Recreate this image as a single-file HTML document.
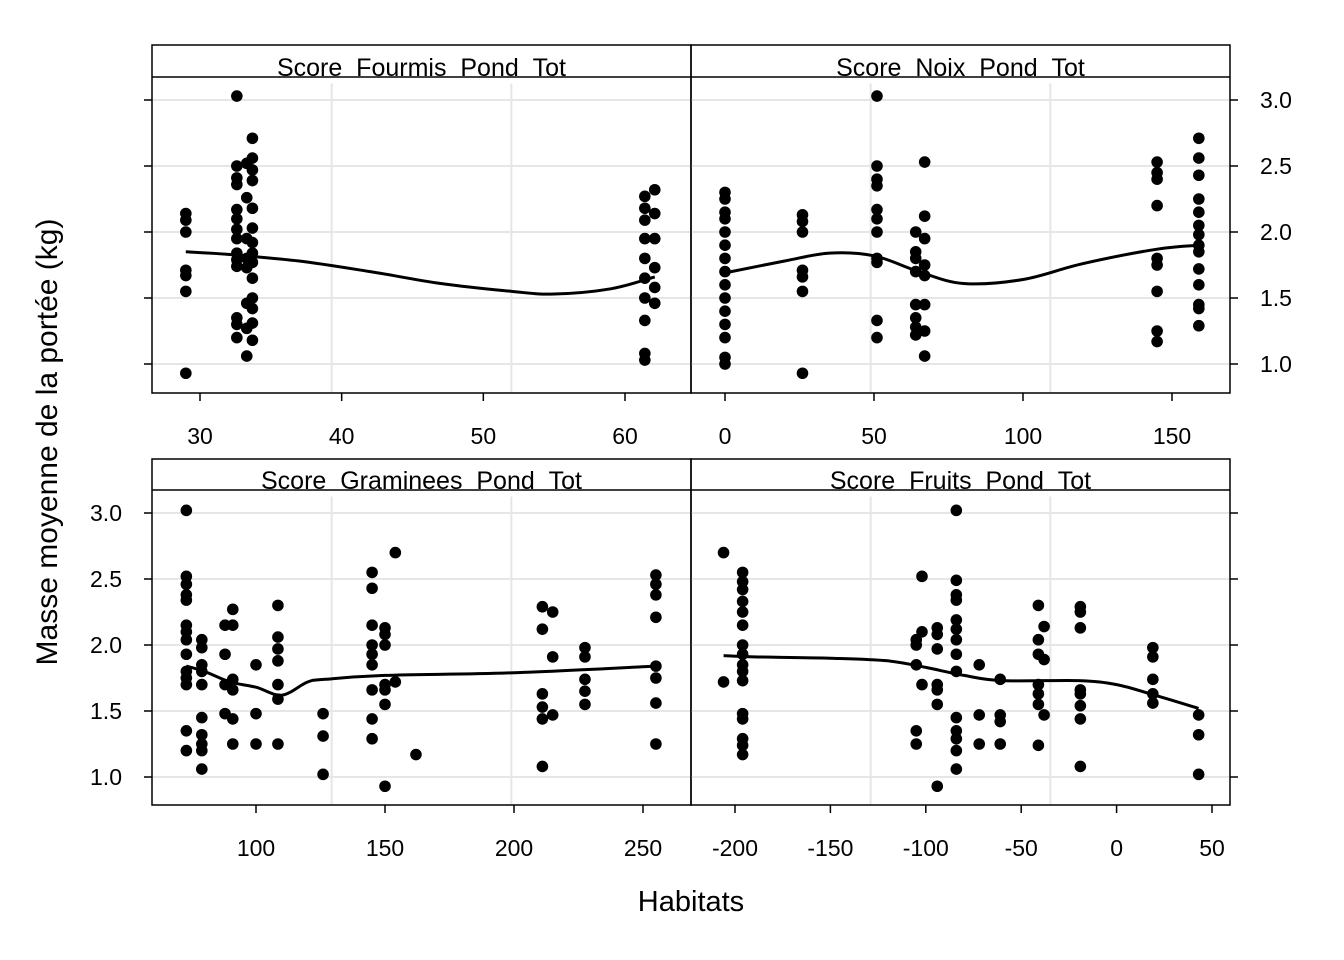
<!DOCTYPE html>
<html><head><meta charset="utf-8"><style>
html,body{margin:0;padding:0;background:#fff;}
svg{display:block;font-family:"Liberation Sans",Arial,sans-serif;}
</style></head><body>
<svg id="chart" width="1344" height="960" viewBox="0 0 1344 960"></svg>
<script>
// ---- data ----
const panelTitles = ["Score_Fourmis_Pond_Tot","Score_Noix_Pond_Tot","Score_Graminees_Pond_Tot","Score_Fruits_Pond_Tot"];
const yTicks = [1.0,1.5,2.0,2.5,3.0];
const xTicksFourmis = [30,40,50,60];
const xTicksNoix = [0,50,100,150];
const xTicksGram = [100,150,200,250];
const xTicksFruits = [-200,-150,-100,-50,0,50];

const fourmisX = [29,29,29,29,29,29,29,
 32.6,32.6,32.6,32.6,32.6,32.6,32.6,32.6,32.6,32.6,32.6,32.6,32.6,32.6,
 33.3,33.3,33.3,33.3,33.3,33.3,33.3,33.3,
 33.7,33.7,33.7,33.7,33.7,33.7,33.7,33.7,33.7,33.7,33.7,33.7,33.7,33.7,
 61.4,61.4,61.4,61.4,61.4,61.4,61.4,61.4,61.4,61.4,
 62.1,62.1,62.1,62.1,62.1,62.1];
const fourmisY = [2.14,2.09,2.0,1.71,1.67,1.55,0.93,
 3.03,2.5,2.41,2.36,2.17,2.1,2.02,1.95,1.84,1.79,1.74,1.35,1.3,1.2,
 2.52,2.26,1.95,1.8,1.73,1.46,1.27,1.06,
 2.71,2.56,2.47,2.39,2.18,2.03,1.92,1.84,1.77,1.65,1.5,1.42,1.31,1.18,
 2.27,2.18,2.09,1.95,1.8,1.65,1.5,1.33,1.08,1.03,
 2.32,2.14,1.95,1.73,1.58,1.46];
const fourmisFitX = [29,32,37,42,47,52,55,59,62.1];
const fourmisFitY = [1.85,1.83,1.78,1.7,1.61,1.55,1.53,1.57,1.66];

const noixX = [0,0,0,0,0,0,0,0,0,0,0,0,0,0,0,
 26,26,26,26,26,26,26,
 51,51,51,51,51,51,51,51,51,51,51,
 64,64,64,64,64,64,64,64,
 67,67,67,67,67,67,67,67,
 145,145,145,145,145,145,145,145,145,
 159,159,159,159,159,159,159,159,159,159,159,159,159,159];
const noixY = [2.3,2.25,2.15,2.1,2.0,1.9,1.8,1.7,1.6,1.5,1.4,1.3,1.2,1.05,1.0,
 2.13,2.08,2.0,1.71,1.66,1.55,0.93,
 3.03,2.5,2.4,2.35,2.17,2.1,2.0,1.8,1.77,1.33,1.2,
 2.0,1.85,1.8,1.7,1.45,1.35,1.28,1.22,
 2.53,2.12,1.95,1.75,1.67,1.45,1.25,1.06,
 2.53,2.45,2.4,2.2,1.8,1.75,1.55,1.25,1.17,
 2.71,2.56,2.43,2.25,2.15,2.05,1.98,1.9,1.85,1.72,1.6,1.45,1.42,1.29];
const noixFitX = [0,20,35,50,65,80,100,120,145,159];
const noixFitY = [1.69,1.78,1.84,1.82,1.7,1.61,1.64,1.76,1.87,1.9];

const gramX = [73,73,73,73,73,73,73,73,73,73,73,73,73,73,
 79,79,79,79,79,79,79,79,79,79,
 88,88,88,88, 91,91,91,91,91,91, 100,100,100,
 108.5,108.5,108.5,108.5,108.5,108.5,108.5,
 126,126,126,
 145,145,145,145,145,145,145,145,145,
 150,150,150,150,150,150,150, 154,154, 162,
 211,211,211,211,211,211, 215,215,215,
 227.5,227.5,227.5,227.5,227.5,
 255,255,255,255,255,255,255,255];
const gramY = [3.02,2.52,2.46,2.38,2.34,2.15,2.1,2.04,1.93,1.8,1.75,1.7,1.35,1.2,
 2.04,1.98,1.85,1.8,1.7,1.45,1.32,1.25,1.2,1.06,
 2.15,1.93,1.7,1.48, 2.27,2.15,1.74,1.66,1.44,1.25, 1.85,1.48,1.25,
 2.3,2.06,1.97,1.88,1.7,1.59,1.25,
 1.48,1.31,1.02,
 2.55,2.43,2.15,2.0,1.93,1.85,1.66,1.44,1.29,
 2.13,2.08,2.0,1.7,1.66,1.55,0.93, 2.7,1.72, 1.17,
 2.29,2.12,1.63,1.53,1.44,1.08, 2.25,1.91,1.47,
 1.98,1.91,1.74,1.65,1.55,
 2.53,2.46,2.38,2.21,1.84,1.75,1.56,1.25];
const gramFitX = [73,80,90,100,110,120,127,150,200,255];
const gramFitY = [1.84,1.8,1.72,1.68,1.62,1.72,1.74,1.77,1.79,1.84];

const fruitsX = [-206,-206,
 -196,-196,-196,-196,-196,-196,-196,-196,-196,-196,-196,-196,-196,-196,-196,-196,
 -105,-105,-105,-105,-105, -102,-102,-102,
 -94,-94,-94,-94,-94,-94,-94,
 -84,-84,-84,-84,-84,-84,-84,-84,-84,-84,-84,-84,-84,-84,
 -72,-72,-72, -61,-61,-61,-61,
 -41,-41,-41,-41,-41,-41,-41, -38,-38,-38,
 -19,-19,-19,-19,-19,-19,-19,-19,
 19,19,19,19,19, 43,43,43];
const fruitsY = [2.7,1.72,
 2.55,2.48,2.42,2.33,2.25,2.15,2.0,1.93,1.85,1.8,1.73,1.48,1.44,1.29,1.24,1.17,
 2.04,2.0,1.85,1.35,1.25, 2.52,2.1,1.7,
 2.13,2.08,1.97,1.7,1.66,1.55,0.93,
 3.02,2.49,2.38,2.34,2.19,2.12,2.04,1.93,1.8,1.45,1.35,1.29,1.2,1.06,
 1.85,1.47,1.25, 1.74,1.47,1.42,1.25,
 2.3,2.04,1.93,1.7,1.63,1.55,1.24, 2.14,1.89,1.47,
 2.29,2.25,2.13,1.66,1.63,1.54,1.44,1.08,
 1.98,1.91,1.74,1.63,1.56, 1.47,1.32,1.02];
const fruitsFitX = [-206,-190,-150,-120,-100,-80,-60,-20,0,20,43];
const fruitsFitY = [1.92,1.91,1.9,1.88,1.83,1.77,1.73,1.73,1.7,1.62,1.52];

// ---- layout ----
const NS = "http://www.w3.org/2000/svg";
const svg = document.getElementById('chart');
function el(tag, attrs, parent){const e=document.createElementNS(NS,tag);for(const k in attrs)e.setAttribute(k,attrs[k]);(parent||svg).appendChild(e);return e;}

function smoothPath(pts){
  let d='M'+pts[0][0].toFixed(1)+','+pts[0][1].toFixed(1);
  for(let i=0;i<pts.length-1;i++){
    const p0=pts[Math.max(0,i-1)],p1=pts[i],p2=pts[i+1],p3=pts[Math.min(pts.length-1,i+2)];
    const c1x=p1[0]+(p2[0]-p0[0])/6,c1y=p1[1]+(p2[1]-p0[1])/6;
    const c2x=p2[0]-(p3[0]-p1[0])/6,c2y=p2[1]-(p3[1]-p1[1])/6;
    d+=' C'+c1x.toFixed(1)+','+c1y.toFixed(1)+' '+c2x.toFixed(1)+','+c2y.toFixed(1)+' '+p2[0].toFixed(1)+','+p2[1].toFixed(1);
  }
  return d;
}

const panels = [
 {x0:152,x1:691,top:45,strip:77,bot:393,y1px:364,xa:[30,200],xb:[60,625],xs:fourmisX,ys:fourmisY,fx:fourmisFitX,fy:fourmisFitY,ticks:xTicksFourmis,yLab:'right',yTickSide:'left',key:'fourmis'},
 {x0:691,x1:1230,top:45,strip:77,bot:393,y1px:364,xa:[0,725],xb:[150,1172],xs:noixX,ys:noixY,fx:noixFitX,fy:noixFitY,ticks:xTicksNoix,yLab:'right',yTickSide:'right',key:'noix'},
 {x0:152,x1:691,top:459,strip:490,bot:805,y1px:777,xa:[100,256],xb:[250,643],xs:gramX,ys:gramY,fx:gramFitX,fy:gramFitY,ticks:xTicksGram,yLab:'left',yTickSide:'left',key:'graminees'},
 {x0:691,x1:1230,top:459,strip:490,bot:805,y1px:777,xa:[-200,735],xb:[50,1212],xs:fruitsX,ys:fruitsY,fx:fruitsFitX,fy:fruitsFitY,ticks:xTicksFruits,yLab:'right-nolabel',yTickSide:'right',key:'fruits'}
];

panels.forEach((p,i)=>{
  const g = el('g',{});
  
  
  const sx = v => p.xa[1] + (v-p.xa[0])*(p.xb[1]-p.xa[1])/(p.xb[0]-p.xa[0]);
  const sy = v => p.y1px - (v-1)*132;
  const w = p.x1-p.x0;
  [1/3,2/3].forEach(f=>{
    const l=el('line',{x1:p.x0+w*f,x2:p.x0+w*f,y1:p.strip,y2:p.bot,stroke:'#e6e6e6','stroke-width':2},g);
    
    
  });
  yTicks.forEach(t=>{
    const l=el('line',{x1:p.x0,x2:p.x1,y1:sy(t),y2:sy(t),stroke:'#e6e6e6','stroke-width':2},g);
    
    
  });
  p.xs.forEach((xv,k)=>{
    const c=el('circle',{cx:sx(xv),cy:sy(p.ys[k]),r:5.8,fill:'#000'},g);
    
    
  });
  const pts = p.fx.map((xv,k)=>[sx(xv),sy(p.fy[k])]);
  const path=el('path',{d:smoothPath(pts),fill:'none',stroke:'#000','stroke-width':3},g);
  
  
  const st=el('text',{x:(p.x0+p.x1)/2,y:p.strip-1,'text-anchor':'middle','font-size':25},g);
  st.textContent=panelTitles[i];
  
  
  // hide underscores below strip line (as in the original render)
  el('rect',{x:p.x0+1,y:p.strip+0.5,width:w-2,height:6,fill:'#fff'},g);
  el('line',{x1:p.x0,x2:p.x1,y1:p.strip,y2:p.strip,stroke:'#000','stroke-width':1.5},g);
  el('rect',{x:p.x0,y:p.top,width:w,height:p.bot-p.top,fill:'none',stroke:'#000','stroke-width':1.5},g);
  p.ticks.forEach(t=>{
    el('line',{x1:sx(t),x2:sx(t),y1:p.bot,y2:p.bot+8,stroke:'#000','stroke-width':1.5},g);
    const tx=el('text',{x:sx(t),y:p.bot+51,'text-anchor':'middle','font-size':23},g);
    tx.textContent=String(t);
    
    
  });
  yTicks.forEach(t=>{
    if(p.yTickSide==='left'){
      el('line',{x1:p.x0-8,x2:p.x0,y1:sy(t),y2:sy(t),stroke:'#000','stroke-width':1.5},g);
      if(p.yLab==='left'){
        const ty=el('text',{x:p.x0-30,y:sy(t)+8,'text-anchor':'end','font-size':23},g);
        ty.textContent=t.toFixed(1);
        
        
      }
    } else {
      el('line',{x1:p.x1,x2:p.x1+8,y1:sy(t),y2:sy(t),stroke:'#000','stroke-width':1.5},g);
      if(p.yLab==='right'){
        const ty=el('text',{x:p.x1+30,y:sy(t)+8,'text-anchor':'start','font-size':23},g);
        ty.textContent=t.toFixed(1);
        
        
      }
    }
  });
});
const xt=el('text',{x:691,y:911,'text-anchor':'middle','font-size':29});
xt.textContent='Habitats';


const yt=el('text',{x:0,y:0,'text-anchor':'middle','font-size':30,transform:'translate(57,442) rotate(-90)'});
yt.textContent='Masse moyenne de la portée (kg)';


</script>
</body></html>
